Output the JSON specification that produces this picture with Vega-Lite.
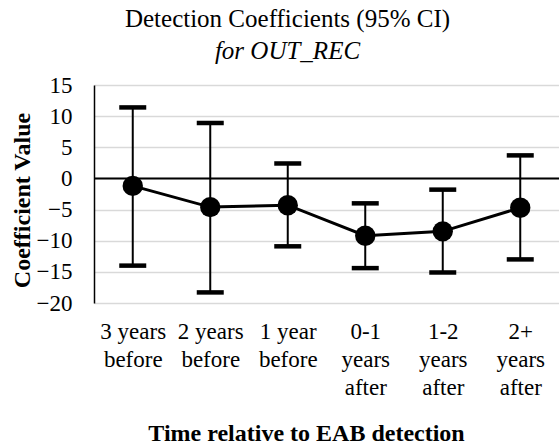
{
  "$schema": "https://vega.github.io/schema/vega-lite/v6.json",
  "width": 465,
  "height": 218,
  "autosize": {"type": "none"},
  "padding": {"left": 94, "top": 85, "right": 0, "bottom": 141},
  "background": "white",
  "title": {
    "text": "Detection Coefficients (95% CI)",
    "subtitle": "for OUT_REC",
    "font": "Liberation Serif",
    "fontSize": 25,
    "fontWeight": "normal",
    "color": "black",
    "subtitleFont": "Liberation Serif",
    "subtitleFontSize": 25,
    "subtitleFontStyle": "italic",
    "subtitleColor": "black",
    "subtitlePadding": 7,
    "anchor": "middle",
    "dx": -39,
    "offset": 10
  },
  "config": {
    "view": {"stroke": null},
    "font": "Liberation Serif",
    "title": {"font": "Liberation Serif", "subtitleFont": "Liberation Serif"},
    "axisY": {
      "titleFont": "Liberation Serif",
      "titleFontSize": 24,
      "titleFontWeight": "bold",
      "titleColor": "black",
      "titlePadding": 2,
      "titleY": 115,
      "labelFont": "Liberation Serif",
      "labelFontSize": 23,
      "labelColor": "black",
      "labelPadding": 22,
      "labelOverlap": false,
      "labelBound": false,
      "labelFlush": false,
      "grid": true,
      "gridColor": "#d9d9d9",
      "gridWidth": 1.5,
      "domainColor": "black",
      "domainWidth": 1.5,
      "ticks": false
    }
  },
  "data": {
    "values": [
      {"cat": "3 years|before", "coef": -1.2, "lo": -14.0, "hi": 11.4},
      {"cat": "2 years|before", "coef": -4.6, "lo": -18.3, "hi": 8.9},
      {"cat": "1 year|before", "coef": -4.3, "lo": -10.9, "hi": 2.4},
      {"cat": "0-1|years|after", "coef": -9.2, "lo": -14.4, "hi": -4.0},
      {"cat": "1-2|years|after", "coef": -8.5, "lo": -15.1, "hi": -1.8},
      {"cat": "2+|years|after", "coef": -4.7, "lo": -13.0, "hi": 3.7}
    ]
  },
  "layer": [
    {
      "mark": {"type": "rule", "color": "black", "strokeWidth": 2},
      "encoding": {
        "x": {
          "field": "cat", "type": "ordinal",
          "sort": ["3 years|before", "2 years|before", "1 year|before", "0-1|years|after", "1-2|years|after", "2+|years|after"],
          "scale": {"type": "point", "padding": 0.5},
          "axis": {
            "title": "Time relative to EAB detection",
            "titleFont": "Liberation Serif",
            "titleFontSize": 24,
            "titleFontWeight": "bold",
            "titleColor": "black",
            "titlePadding": 22,
            "titleX": 212,
            "labelFont": "Liberation Serif",
            "labelFontSize": 23,
            "labelColor": "black",
            "labelExpr": "split(datum.label, '|')",
            "labelLineHeight": 28,
            "labelAngle": 0,
            "labelOverlap": false,
            "labelBound": false,
            "labelPadding": 17,
            "domain": false,
            "ticks": false,
            "grid": false
          }
        },
        "y": {
          "field": "lo", "type": "quantitative",
          "scale": {"domain": [-20, 15], "nice": false},
          "axis": {"title": "Coefficient Value", "values": [-20, -15, -10, -5, 0, 5, 10, 15]}
        },
        "y2": {"field": "hi"}
      }
    },
    {
      "data": {"values": [{"z": 0}]},
      "mark": {"type": "rule", "color": "black", "strokeWidth": 2},
      "encoding": {"y": {"field": "z", "type": "quantitative", "axis": {"title": "Coefficient Value", "values": [-20, -15, -10, -5, 0, 5, 10, 15]}}}
    },
    {
      "mark": {"type": "tick", "color": "black", "size": 27, "thickness": 4.5, "opacity": 1},
      "encoding": {
        "x": {"field": "cat", "type": "ordinal", "sort": ["3 years|before", "2 years|before", "1 year|before", "0-1|years|after", "1-2|years|after", "2+|years|after"]},
        "y": {"field": "lo", "type": "quantitative", "axis": {"title": "Coefficient Value", "values": [-20, -15, -10, -5, 0, 5, 10, 15]}}
      }
    },
    {
      "mark": {"type": "tick", "color": "black", "size": 27, "thickness": 4.5, "opacity": 1},
      "encoding": {
        "x": {"field": "cat", "type": "ordinal", "sort": ["3 years|before", "2 years|before", "1 year|before", "0-1|years|after", "1-2|years|after", "2+|years|after"]},
        "y": {"field": "hi", "type": "quantitative", "axis": {"title": "Coefficient Value", "values": [-20, -15, -10, -5, 0, 5, 10, 15]}}
      }
    },
    {
      "mark": {"type": "line", "color": "black", "strokeWidth": 3},
      "encoding": {
        "x": {"field": "cat", "type": "ordinal", "sort": ["3 years|before", "2 years|before", "1 year|before", "0-1|years|after", "1-2|years|after", "2+|years|after"]},
        "y": {"field": "coef", "type": "quantitative", "axis": {"title": "Coefficient Value", "values": [-20, -15, -10, -5, 0, 5, 10, 15]}}
      }
    },
    {
      "mark": {"type": "circle", "color": "black", "size": 415, "opacity": 1},
      "encoding": {
        "x": {"field": "cat", "type": "ordinal", "sort": ["3 years|before", "2 years|before", "1 year|before", "0-1|years|after", "1-2|years|after", "2+|years|after"]},
        "y": {"field": "coef", "type": "quantitative", "axis": {"title": "Coefficient Value", "values": [-20, -15, -10, -5, 0, 5, 10, 15]}}
      }
    }
  ]
}
